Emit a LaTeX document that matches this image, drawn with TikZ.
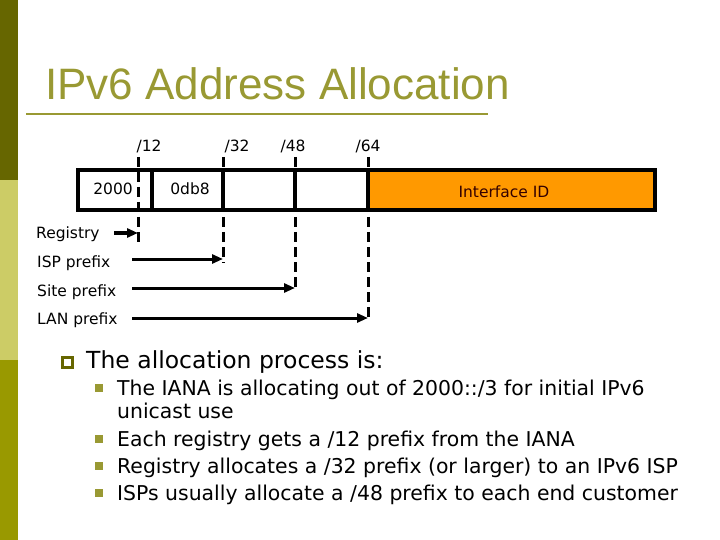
\documentclass[tikz,border=0pt]{standalone}
\usepackage{fontspec}
\setmainfont{DejaVu Sans}
\newfontfamily\titlefont{Liberation Sans}
\usetikzlibrary{arrows.meta}

\definecolor{barDark}{HTML}{666600}
\definecolor{barLight}{HTML}{CCCC66}
\definecolor{barOlive}{HTML}{999900}
\definecolor{titleOlive}{HTML}{999933}
\definecolor{ifaceOrange}{HTML}{FF9900}

\tikzset{
	field/.style={draw=black, line width=4},
	cut/.style={draw=black, line width=3, dash pattern=on 10pt off 5pt},
	span/.style={draw=black, line width=3, -{Triangle[length=11pt, width=9pt]}},
	lbl/.style={anchor=base west, inner sep=0, font=\fontsize{15.5}{18}\selectfont},
	tag/.style={anchor=base, inner sep=0, font=\fontsize{15.5}{18}\selectfont},
	itemA/.style={anchor=base west, inner sep=0, font=\fontsize{23.5}{28}\selectfont},
	itemB/.style={anchor=base west, inner sep=0, font=\fontsize{20.4}{24}\selectfont},
}

\begin{document}
\begin{tikzpicture}[x=1pt, y=-1pt]
	\useasboundingbox (0,0) rectangle (720,540);

	\fill[barDark] (0,0) rectangle (18,180);
	\fill[barLight] (0,180) rectangle (18,360);
	\fill[barOlive] (0,360) rectangle (18,540);

	\node[anchor=base west, inner sep=0, text=titleOlive, font=\titlefont\fontsize{44}{48}\selectfont] (title) at (45,100) {IPv6 Address Allocation};
	\draw[titleOlive, line width=2.5] (26,114) -- (488,114);

	% address
	\fill[ifaceOrange] (368,170) rectangle (655,210);
	\draw[field] (78,170) rectangle (655,210);
	\draw[field] (152,170) -- (152,210);
	\draw[field] (223,170) -- (223,210);
	\draw[field] (295,170) -- (295,210);
	\draw[field] (368,170) -- (368,210);

	\node[anchor=base east, inner sep=0, font=\fontsize{15.5}{18}\selectfont] (f2000) at (133,195) {2000};
	\node[tag] (fdb8) at (190,195) {0db8};
	\node[tag, text=black!80!red] (fiid) at (504,198) {Interface ID};

	\node[tag] (l12) at (149,152) {/12};
	\node[tag] (l32) at (237,152) {/32};
	\node[tag] (l48) at (293,152) {/48};
	\node[tag] (l64) at (368,152) {/64};

	\coordinate (m12) at (138,157);
	\coordinate (m32) at (223,157);
	\coordinate (m48) at (295,157);
	\coordinate (m64) at (368,157);
	\coordinate (e12) at (138,243);
	\coordinate (e32) at (223,263);
	\coordinate (e48) at (295,290);
	\coordinate (e64) at (368,320);
	\draw[cut] (m12) -- (e12);
	\draw[cut] (m32) -- (e32);
	\draw[cut] (m48) -- (e48);
	\draw[cut] (m64) -- (e64);

	\node[lbl] (reg) at (36,238) {Registry};
	\node[lbl] (isp) at (37,267) {ISP prefix};
	\node[lbl] (site) at (37,296) {Site prefix};
	\node[lbl] (lan) at (37,324) {LAN prefix};

	\coordinate (sreg) at (114,233);
	\coordinate (sisp) at (132,259);
	\coordinate (ssite) at (132,288);
	\coordinate (slan) at (132,318);
	\draw[span] (sreg) -- (sreg -| m12);
	\draw[span] (sisp) -- (sisp -| m32);
	\draw[span] (ssite) -- (ssite -| m48);
	\draw[span] (slan) -- (slan -| m64);

	% bullets
	\draw[barDark, line width=2.5] (62.5,357.5) rectangle (72.5,367.5);
	\node[itemA] (proc) at (86,368) {The allocation process is:};

	\foreach \yy in {388,439,466,493}
		\fill[titleOlive] (95,\yy-4) rectangle (103,\yy+4);
	\node[itemB] (i1) at (117,395) {The IANA is allocating out of 2000::/3 for initial IPv6};
	\node[itemB] (i1b) at (117,418) {unicast use};
	\node[itemB] (i2) at (117,446) {Each registry gets a /12 prefix from the IANA};
	\node[itemB] (i3) at (117,473) {Registry allocates a /32 prefix (or larger) to an IPv6 ISP};
	\node[itemB] (i4) at (117,500) {ISPs usually allocate a /48 prefix to each end customer};
\end{tikzpicture}
\end{document}
